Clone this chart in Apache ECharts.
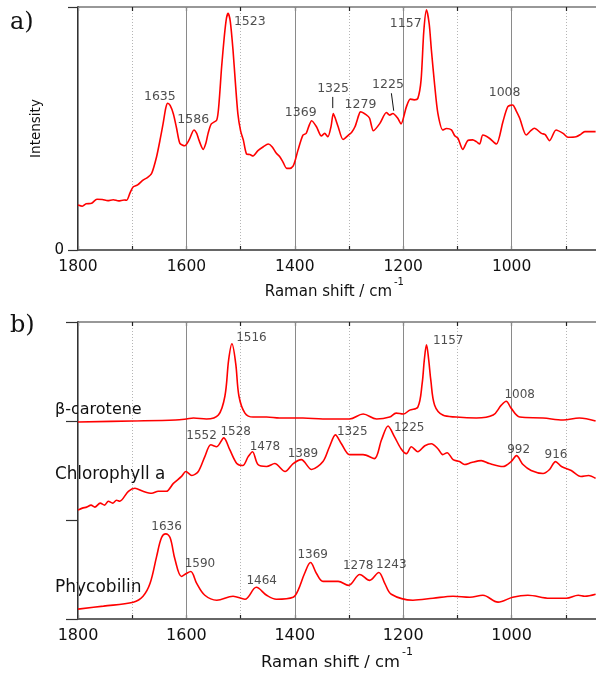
<!DOCTYPE html>
<html>
<head>
<meta charset="utf-8">
<script src="https://cdn.jsdelivr.net/npm/echarts@6/dist/echarts.min.js"></script>
<style>html,body{margin:0;padding:0;background:#fff}#c{width:596px;height:675px}</style>
</head>
<body>
<div id="c"></div>
<script>
// ---------- Panel a: measured spectrum ----------
const wnA = [1800,1792,1785,1775,1765,1755,1745,1735,1725,1715,1710,1704,1698,1690,1680,1672,1664,1655,1648,1643,1638,1634.5,1630,1624,1618,1612,1603,1595,1586,1581,1577,1569,1564,1560,1554,1544,1540,1535,1530,1526,1523,1519,1514,1510,1505,1500,1495,1489,1483,1477,1468,1458,1449,1442,1434,1428,1422,1415,1409,1403,1400,1394,1385,1379,1374,1369,1360,1351,1345,1339,1333,1329,1325,1320,1311,1301,1295,1289,1282,1279,1268,1262,1255,1243,1231,1225,1219,1210,1204,1194,1187,1180,1173,1167,1162,1157,1152,1148,1142,1136,1127,1120,1111,1105,1099,1090,1081,1072,1065,1059,1053,1041,1028,1016,1007,998,992,985,973,965,958,945,938,930,918,905,896,881,873,865,845];
const intA = [18.5,18.0,19.0,19.2,20.9,20.8,20.3,20.7,20.2,20.6,20.5,23.5,26,26.8,28.8,29.8,31.6,38.4,46,52,58.5,60.4,59.5,56,50,43.9,42.9,45.3,49.4,48,45.3,41.4,44,48,51.9,53.5,60,75.4,88,95.5,97.4,94,82.3,70,56,49,45.3,39.5,39.3,38.7,40.9,42.5,43.6,42.5,39.8,38.5,36.3,33.6,33.6,34.6,36.3,41.2,47.3,48,51,53.2,50.7,46.9,48,46.6,51,56.2,54,50.7,45.5,47.3,48.5,50.7,55.5,56.9,55.6,54.2,49.1,52.1,56.6,55.5,56.2,54.2,51.9,59,62.1,61.8,62.4,70,90,98.8,93,82.3,68,56.2,49.4,50,49.4,47,46,41.4,45,45.3,44.6,43.6,47.3,46,43.6,52.8,59,59.7,57.5,54.2,47.3,49,50.1,48,47.5,45,49.4,48,46.4,46.6,47.5,48.7,48.7];
// peak annotations for panel a: label centre (wavenumber, intensity) and text
const peakA_x = [1649,1587.5,1483,1389,1329.4,1278.9,1228,1195.4,1012.9];
const peakA_y = [63.1,53.5,94,56.4,66.5,59.7,68.2,93,64.7];
const peakA_t = ['1635','1586','1523','1369','1325','1279','1225','1157','1008'];
// leader lines [x1,y1,x2,y2]
const leadersA = [[1330,63,1330,58.4],[1221.8,64.5,1217.5,57.3]];

// ---------- Panel b: reference spectra (stacked) ----------
const wnCar = [1800,1700,1620,1600,1587,1563,1541,1529,1522,1516,1509,1503,1492,1477,1452,1428,1403,1385,1348,1317,1299,1274,1249,1225,1213,1200,1188,1173,1165,1161,1157,1153,1149,1142,1127,1102,1065,1034,1019,1010,1001,985,942,905,875,845];
const valCar = [1.99,2.0,2.01,2.02,2.03,2.02,2.06,2.25,2.62,2.78,2.58,2.25,2.08,2.04,2.04,2.03,2.03,2.03,2.02,2.02,2.02,2.07,2.02,2.04,2.08,2.07,2.11,2.14,2.38,2.62,2.77,2.62,2.41,2.16,2.06,2.04,2.03,2.06,2.16,2.2,2.13,2.04,2.03,2.01,2.03,2.0];
const wnChl = [1800,1792,1784,1776,1769,1759,1751,1744,1736,1729,1723,1707,1695,1680,1664,1652,1637,1624,1609,1601,1590,1578,1566,1555,1544,1531,1520,1507,1496,1486,1478,1468,1452,1437,1418,1403,1388,1369,1348,1336,1325,1314,1299,1274,1253,1240,1228,1216,1204,1194,1185,1173,1160,1148,1136,1127,1119,1108,1096,1087,1074,1056,1041,1016,1001,991,979,964,942,930,919,908,890,872,858,845];
const valChl = [1.10,1.12,1.13,1.15,1.13,1.17,1.15,1.19,1.17,1.20,1.19,1.29,1.32,1.29,1.27,1.29,1.29,1.37,1.44,1.49,1.45,1.49,1.64,1.76,1.74,1.83,1.71,1.57,1.55,1.64,1.69,1.56,1.54,1.57,1.49,1.57,1.61,1.51,1.59,1.74,1.86,1.77,1.66,1.66,1.62,1.81,1.95,1.84,1.72,1.67,1.74,1.69,1.75,1.77,1.72,1.66,1.68,1.61,1.59,1.56,1.58,1.60,1.57,1.54,1.59,1.65,1.56,1.50,1.47,1.51,1.59,1.54,1.50,1.44,1.45,1.42];
const wnPhy = [1800,1753,1698,1680,1667,1655,1646,1638,1630,1621,1609,1600,1592,1581,1566,1544,1514,1492,1471,1452,1434,1403,1394,1382,1371,1360,1348,1320,1301,1280,1262,1245,1234,1222,1182,1145,1108,1077,1053,1025,998,970,930,899,877,865,845];
const valPhy = [0.10,0.13,0.17,0.23,0.36,0.63,0.82,0.86,0.82,0.60,0.43,0.46,0.48,0.36,0.24,0.19,0.23,0.20,0.32,0.24,0.20,0.22,0.29,0.46,0.57,0.46,0.38,0.38,0.34,0.45,0.39,0.47,0.36,0.25,0.19,0.21,0.23,0.22,0.24,0.17,0.22,0.24,0.21,0.21,0.24,0.23,0.25];
const peakB_x = [1480,1117,985,1572,1509,1455,1385,1294,1189,987,918,1636.5,1575,1461,1367,1283,1222];
const peakB_y = [2.84,2.81,2.26,1.85,1.89,1.74,1.67,1.89,1.93,1.71,1.66,0.93,0.56,0.39,0.65,0.54,0.55];
const peakB_t = ['1516','1157','1008','1552','1528','1478','1389','1325','1225','992','916','1636','1590','1464','1369','1278','1243'];
const seriesNames = ['β-carotene','Chlorophyll a','Phycobilin'];
const xTicks = [1800,1600,1400,1200,1000];

const F = 'DejaVu Sans';
const RED = '#ff0000';
const chart = echarts.init(document.getElementById('c'), null, {renderer:'canvas'});
const pairs = (xs, ys) => xs.map((x,i)=>[x, ys[i]]);

function xAxesFor(g, fs){
  return [
    {gridIndex:g, type:'value', min:800, max:1800, inverse:true, interval:200, position:'bottom', z:3,
     axisLine:{show:true, lineStyle:{color:'#555', width:1.5}},
     axisTick:{show:false},
     axisLabel:{fontFamily:F, fontSize:fs, color:'#111', margin:9, formatter:v=> xTicks.indexOf(v)>=0 ? String(v) : ''},
     splitLine:{show:true, lineStyle:{color:'#8a8a8a', width:1}}},
    {gridIndex:g, type:'value', min:800, max:1800, inverse:true, interval:100, position:'bottom', z:1,
     axisLine:{show:false}, axisLabel:{show:false},
     axisTick:{show:true, inside:true, length:4, lineStyle:{color:'#222', width:1.2}},
     splitLine:{show:true, lineStyle:{color:'#b5b5b5', width:1, type:[1,2]}}},
    {gridIndex:g, type:'value', min:800, max:1800, inverse:true, interval:100, position:'top', z:1,
     axisLine:{show:false}, axisLabel:{show:false}, splitLine:{show:false},
     axisTick:{show:true, inside:true, length:4, lineStyle:{color:'#222', width:1.2}}}
  ];
}

function labelSeries(xi, yi, xs, ys, ts, fs){
  return {type:'scatter', xAxisIndex:xi, yAxisIndex:yi, symbolSize:0, silent:true, z:5,
    itemStyle:{color:'transparent'},
    label:{show:true, position:'inside', fontFamily:F, fontSize:fs, color:'#222',
      formatter:p=>p.data[2]},
    data: xs.map((x,i)=>[x, ys[i], ts[i]])};
}

const series = [
  {type:'line', xAxisIndex:0, yAxisIndex:0, data:pairs(wnA,intA), showSymbol:false, smooth:0.25,
   lineStyle:{color:RED, width:1.6}, z:4},
  labelSeries(0,0,peakA_x,peakA_y,peakA_t,12.5),
  {type:'line', xAxisIndex:3, yAxisIndex:1, data:pairs(wnCar,valCar), showSymbol:false, smooth:0.35,
   lineStyle:{color:RED, width:1.6}, z:4},
  {type:'line', xAxisIndex:3, yAxisIndex:1, data:pairs(wnChl,valChl), showSymbol:false, smooth:0.3,
   lineStyle:{color:RED, width:1.6}, z:4},
  {type:'line', xAxisIndex:3, yAxisIndex:1, data:pairs(wnPhy,valPhy), showSymbol:false, smooth:0.35,
   lineStyle:{color:RED, width:1.6}, z:4},
  labelSeries(3,1,peakB_x,peakB_y,peakB_t,12)
];
leadersA.forEach(l=>{
  series.push({type:'line', xAxisIndex:0, yAxisIndex:0, data:[[l[0],l[1]],[l[2],l[3]]], showSymbol:false,
    silent:true, lineStyle:{color:'#111', width:1}, z:5});
});

const option = {
  animation:false,
  backgroundColor:'#fff',
  grid:[
    {left:78, top:7, width:542, height:243, show:true, borderColor:'#777', borderWidth:1.5, backgroundColor:'transparent', containLabel:false, outerBoundsMode:'none'},
    {left:78, top:322, width:542, height:297, show:true, borderColor:'#777', borderWidth:1.5, backgroundColor:'transparent', containLabel:false, outerBoundsMode:'none'}
  ],
  xAxis:[...xAxesFor(0,15.5), ...xAxesFor(1,16)],
  yAxis:[
    {gridIndex:0, type:'value', min:0, max:100, interval:100,
     axisLine:{show:true, lineStyle:{color:'#111', width:1.5}},
     axisTick:{show:true, inside:false, length:10, lineStyle:{color:'#333', width:1.2}},
     axisLabel:{fontFamily:F, fontSize:15, color:'#111', margin:14, formatter:v=> v===0 ? '0' : ''},
     splitLine:{show:false},
     name:'Intensity', nameLocation:'middle', nameGap:16,
     nameTextStyle:{fontFamily:F, fontSize:13.5, color:'#111'}},
    {gridIndex:1, type:'value', min:0, max:3, interval:1,
     axisLine:{show:true, lineStyle:{color:'#111', width:1.5}},
     axisTick:{show:true, inside:false, length:12, lineStyle:{color:'#333', width:1.2}},
     axisLabel:{show:false}, splitLine:{show:false}}
  ],
  series:series,
  graphic:[
    {type:'text', x:10, y:23, style:{text:'a)', fontFamily:'DejaVu Serif', fontSize:24, fill:'#111', align:'left', verticalAlign:'middle'}},
    {type:'text', x:10, y:326, style:{text:'b)', fontFamily:'DejaVu Serif', fontSize:24, fill:'#111', align:'left', verticalAlign:'middle'}},
    {type:'text', x:392, y:292, style:{text:'Raman shift / cm', fontFamily:F, fontSize:15, fill:'#111', align:'right', verticalAlign:'middle'}},
    {type:'text', x:394, y:282, style:{text:'-1', fontFamily:F, fontSize:10, fill:'#111', align:'left', verticalAlign:'middle'}},
    {type:'text', x:400, y:663, style:{text:'Raman shift / cm', fontFamily:F, fontSize:16.4, fill:'#111', align:'right', verticalAlign:'middle'}},
    {type:'text', x:402, y:652, style:{text:'-1', fontFamily:F, fontSize:11, fill:'#111', align:'left', verticalAlign:'middle'}},
    {type:'text', x:55, y:410, style:{text:seriesNames[0], fontFamily:F, fontSize:16, fill:'#111', align:'left', verticalAlign:'middle'}},
    {type:'text', x:55, y:475, style:{text:seriesNames[1], fontFamily:F, fontSize:16.8, fill:'#111', align:'left', verticalAlign:'middle'}},
    {type:'text', x:55, y:588, style:{text:seriesNames[2], fontFamily:F, fontSize:17, fill:'#111', align:'left', verticalAlign:'middle'}}
  ]
};
chart.setOption(option);
</script>
</body>
</html>
